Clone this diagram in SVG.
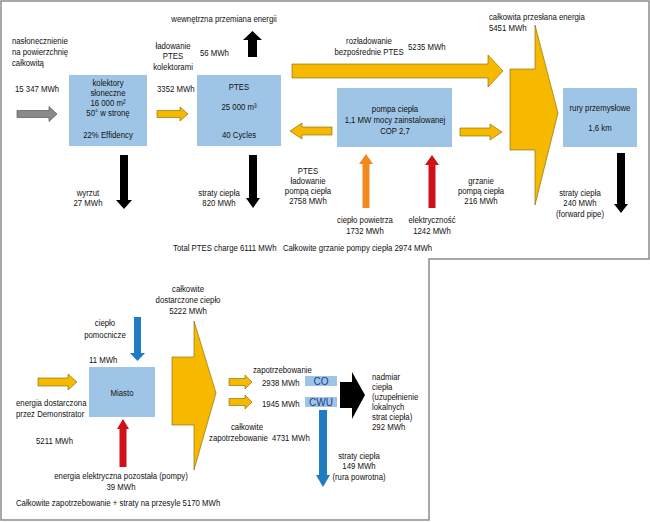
<svg xmlns="http://www.w3.org/2000/svg" width="650" height="522" viewBox="0 0 650 522">
<style>
text{font-family:"Liberation Sans",Arial,sans-serif;font-size:9.5px;fill:#111}
.c{text-anchor:middle}
.box{fill:#9fc5e6}
.y{fill:#f7b900;stroke:#7a6300;stroke-width:0.6}
.k{fill:#000}
.g{fill:#8a8a8a;stroke:#444;stroke-width:0.6}
.o{fill:#f08a1c}
.r{fill:#d2101c}
.b{fill:#1f7cc2}
.blue{fill:#1a3c8c;font-size:10px}
</style>
<rect width="650" height="522" fill="#fff"/>
<path d="M1,1 H649 V259 H429 V520 H1 Z" fill="none" stroke="#8c8c8c" stroke-width="1.5"/>

<g id="kolektory">
<rect class="box" x="69" y="75" width="78" height="71"/>
<g transform="scale(0.82 1)">
<text class="c" x="131.7" y="86">kolektory</text>
<text class="c" x="131.7" y="96">słoneczne</text>
<text class="c" x="131.7" y="106">16 000 m²</text>
<text class="c" x="131.7" y="116">50° w stronę</text>
<text class="c" x="131.7" y="138.5">22% Effidency</text>
</g>
</g>
<g id="ptes">
<rect class="box" x="197" y="75" width="84" height="71"/>
<g transform="scale(0.82 1)">
<text class="c" x="291.5" y="90">PTES</text>
<text class="c" x="291.5" y="110">25 000 m³</text>
<text class="c" x="291.5" y="138">40 Cycles</text>
</g>
</g>
<g id="pompa">
<rect class="box" x="337" y="88" width="115" height="59"/>
<g transform="scale(0.82 1)">
<text class="c" x="481.7" y="112">pompa ciepła</text>
<text class="c" x="481.7" y="123">1,1 MW mocy zainstalowanej</text>
<text class="c" x="481.7" y="134">COP 2,7</text>
</g>
</g>
<g id="rury">
<rect class="box" x="563" y="88" width="74" height="59"/>
<g transform="scale(0.82 1)">
<text class="c" x="731.7" y="111">rury przemysłowe</text>
<text class="c" x="731.7" y="131">1,6 km</text>
</g>
</g>
<g id="miasto">
<rect class="box" x="89" y="367" width="66" height="50"/>
<g transform="scale(0.82 1)">
<text class="c" x="148.8" y="396.5">Miasto</text>
</g>
</g>
<g id="co">
<rect class="box" x="305" y="376" width="32" height="10"/>
<text class="c blue" x="321" y="385">CO</text>
</g>
<g id="cwu">
<rect class="box" x="305" y="397" width="32" height="10"/>
<text class="c blue" x="321" y="406">CWU</text>
</g>

<g id="connectors">
<polygon class="g" points="17,110.5 49,110.5 49,106.5 57,114 49,121.5 49,117.5 17,117.5"/>
<polygon class="y" points="157,110.5 180,110.5 180,107 188,114 180,121 180,117.5 157,117.5"/>
<polygon class="y" points="292,64 488,64 488,55 503,71 488,87 488,78 292,78"/>
<polygon class="y" points="332,127 302,127 302,123 290,131 302,139 302,135 332,135"/>
<polygon class="y" points="460,128 490,128 490,124 502,132 490,140 490,136 460,136"/>
<polygon class="y" points="535,25 558,113 535,205 535,150 510,150 510,69 535,69"/>
<polygon class="k" points="252.5,31 262,40 257,40 257,57 248,57 248,40 243,40"/>
<polygon class="k" points="120,155 128,155 128,200 132,200 124,209 116,200 120,200"/>
<polygon class="k" points="249,155 257,155 257,198 260,198 253,208 246,198 249,198"/>
<polygon class="k" points="617,153 625,153 625,204 628,204 621,213 614,204 617,204"/>
<polygon class="o" points="366,154 373,164 369.5,164 369.5,208 362.5,208 362.5,164 359,164"/>
<polygon class="r" points="432,155 439,165 435.5,165 435.5,208 428.5,208 428.5,165 425,165"/>
<polygon class="b" points="134,317 141,317 141,353 145,353 137.5,361 130,353 134,353"/>
<polygon class="y" points="38,378 68,378 68,374 77,382 68,390 68,386 38,386"/>
<polygon class="r" points="123,419 129,429 126.5,429 126.5,467 119.5,467 119.5,429 117,429"/>
<polygon class="y" points="194,321 216,393 194,470 194,425 172,425 172,357 194,357"/>
<polygon class="y" points="229,378.5 245,378.5 245,375 252,382 245,389 245,385.5 229,385.5"/>
<polygon class="y" points="229,398.5 245,398.5 245,395 252,402 245,409 245,405.5 229,405.5"/>
<polygon class="k" points="340,382 352,382 352,372 365,395 352,419 352,408 340,408"/>
<polygon class="b" points="319,410 327,410 327,475 330,475 323,487 316,475 319,475"/>
</g>

<g id="labels" transform="scale(0.82 1)">
<text x="14.6" y="44">nasłonecznienie</text>
<text x="14.6" y="55">na powierzchnię</text>
<text x="14.6" y="66">całkowitą</text>
<text x="18.3" y="92">15 347 MWh</text>
<text class="c" x="211" y="49">ładowanie</text>
<text class="c" x="211" y="59.5">PTES</text>
<text class="c" x="211" y="70">kolektorami</text>
<text x="191.5" y="92">3352 MWh</text>
<text class="c" x="273.2" y="22">wewnętrzna przemiana energii</text>
<text x="243.9" y="56">56 MWh</text>
<text class="c" x="450" y="44">rozładowanie</text>
<text class="c" x="450" y="55">bezpośrednie PTES</text>
<text x="497.6" y="50">5235 MWh</text>
<text x="596.3" y="20">całkowita przesłana energia</text>
<text x="596.3" y="31">5451 MWh</text>
<text class="c" x="107.3" y="196">wyrzut</text>
<text class="c" x="107.3" y="206.5">27 MWh</text>
<text class="c" x="267.1" y="196">straty ciepła</text>
<text class="c" x="267.1" y="206.5">820 MWh</text>
<text class="c" x="375.6" y="174">PTES</text>
<text class="c" x="375.6" y="184">ładowanie</text>
<text class="c" x="375.6" y="194">pompą ciepła</text>
<text class="c" x="375.6" y="204.5">2758 MWh</text>
<text class="c" x="445.1" y="223.5">ciepło powietrza</text>
<text class="c" x="445.1" y="234">1732 MWh</text>
<text class="c" x="526.8" y="223.5">elektryczność</text>
<text class="c" x="526.8" y="234">1242 MWh</text>
<text class="c" x="586.6" y="184">grzanie</text>
<text class="c" x="586.6" y="194">pompą ciepła</text>
<text class="c" x="586.6" y="204.5">216 MWh</text>
<text class="c" x="707.3" y="196">straty ciepła</text>
<text class="c" x="707.3" y="206.5">240 MWh</text>
<text class="c" x="707.3" y="217">(forward pipe)</text>
<text x="211" y="251.5" xml:space="preserve">Total PTES charge 6111 MWh   Całkowite grzanie pompy ciepła 2974 MWh</text>
<text class="c" x="229.3" y="292.5">całkowite</text>
<text class="c" x="229.3" y="303.5">dostarczone ciepło</text>
<text class="c" x="229.3" y="314.5">5222 MWh</text>
<text class="c" x="128" y="326">ciepło</text>
<text class="c" x="128" y="338">pomocnicze</text>
<text x="108.5" y="363.5">11 MWh</text>
<text x="19.5" y="406">energia dostarczona</text>
<text x="19.5" y="417">przez Demonstrator</text>
<text x="43.9" y="444.5">5211 MWh</text>
<text class="c" x="147.6" y="479.5">energia elektryczna pozostała (pompy)</text>
<text class="c" x="147.6" y="490.5">39 MWh</text>
<text x="19.5" y="506.5">Całkowite zapotrzebowanie + straty na przesyle 5170 MWh</text>
<text x="308.5" y="373.5">zapotrzebowanie</text>
<text x="319.5" y="386">2938 MWh</text>
<text x="319.5" y="407">1945 MWh</text>
<text class="c" x="301.2" y="430.5">całkowite</text>
<text x="254.9" y="441.5" xml:space="preserve">zapotrzebowanie  4731 MWh</text>
<text x="453.7" y="380.5">nadmiar</text>
<text x="453.7" y="390.5">ciepła</text>
<text x="453.7" y="400.5">(uzupełnienie</text>
<text x="453.7" y="410.5">lokalnych</text>
<text x="453.7" y="420.5">strat ciepła)</text>
<text x="453.7" y="430.5">292 MWh</text>
<text class="c" x="437.8" y="459">straty ciepła</text>
<text class="c" x="437.8" y="469.5">149 MWh</text>
<text class="c" x="437.8" y="480">(rura powrotna)</text>
</g>
</svg>
